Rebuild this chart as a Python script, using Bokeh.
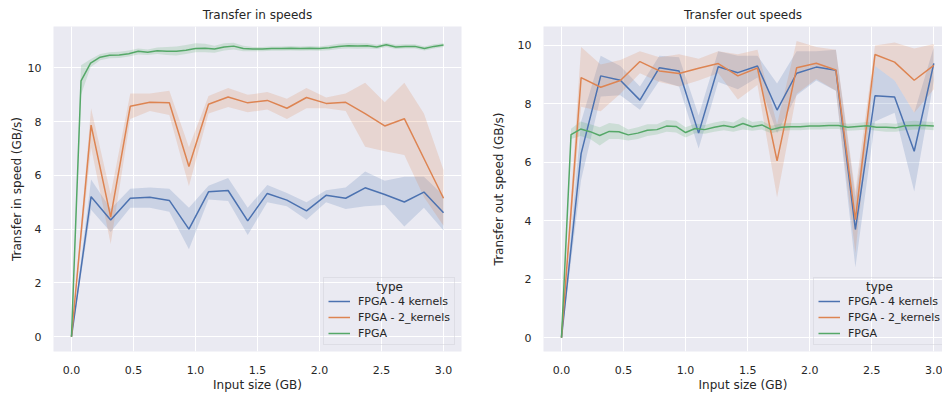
from bokeh.plotting import figure
from bokeh.layouts import row
from bokeh.models import Range1d, Legend, LegendItem, FixedTicker, NumeralTickFormatter, Label
from bokeh.embed import file_html
from bokeh.resources import INLINE

# ---------------- data ----------------
x_sizes = [0.0, 0.158, 0.316, 0.474, 0.632, 0.789, 0.947, 1.105, 1.263, 1.421,
           1.579, 1.737, 1.895, 2.053, 2.211, 2.368, 2.526, 2.684, 2.842, 3.0]
x_sizes_fpga = [0.0, 0.077, 0.154, 0.231, 0.308, 0.385, 0.462, 0.538, 0.615, 0.692,
                0.769, 0.846, 0.923, 1.0, 1.077, 1.154, 1.231, 1.308, 1.385, 1.462,
                1.538, 1.615, 1.692, 1.769, 1.846, 1.923, 2.0, 2.077, 2.154, 2.231,
                2.308, 2.385, 2.462, 2.538, 2.615, 2.692, 2.769, 2.846, 2.923, 3.0]

series_names = ["FPGA - 4 kernels", "FPGA - 2_kernels", "FPGA"]
legend_title = "type"

# Transfer in speeds
in_4k = [0, 5.21, 4.34, 5.15, 5.19, 5.07, 4.00, 5.39, 5.44, 4.31, 5.33, 5.08, 4.68, 5.26, 5.15, 5.54, 5.29, 5.01, 5.38, 4.61]
in_4k_lo = [0, 4.72, 3.90, 4.80, 4.80, 4.65, 3.25, 5.10, 5.05, 3.78, 5.00, 4.85, 4.35, 5.00, 4.75, 4.85, 4.90, 4.10, 4.80, 3.95]
in_4k_hi = [0, 5.85, 4.75, 5.50, 5.55, 5.50, 4.80, 5.62, 5.90, 4.80, 5.64, 5.35, 5.00, 5.45, 5.55, 6.15, 5.80, 5.95, 5.95, 5.25]

in_2k = [0, 7.87, 4.45, 8.57, 8.72, 8.70, 6.33, 8.65, 8.92, 8.70, 8.79, 8.50, 8.90, 8.68, 8.72, 8.30, 7.84, 8.11, 6.63, 5.15]
in_2k_lo = [0, 7.05, 3.45, 8.10, 8.40, 8.25, 5.60, 8.30, 8.55, 8.35, 8.45, 8.10, 8.50, 8.50, 8.40, 7.07, 6.90, 6.76, 5.20, 4.13]
in_2k_hi = [0, 8.50, 5.30, 9.05, 9.05, 9.15, 7.05, 8.95, 9.25, 9.00, 9.10, 8.85, 9.25, 8.90, 9.05, 9.45, 8.72, 9.45, 8.30, 6.20]

in_fpga = [0, 9.52, 10.18, 10.40, 10.47, 10.48, 10.53, 10.62, 10.58, 10.64,
           10.62, 10.62, 10.66, 10.72, 10.73, 10.70, 10.78, 10.81, 10.72, 10.70,
           10.70, 10.72, 10.72, 10.73, 10.72, 10.73, 10.72, 10.75, 10.80, 10.82,
           10.81, 10.82, 10.78, 10.86, 10.78, 10.80, 10.80, 10.72, 10.80, 10.85]
in_fpga_lo = [0, 9.00, 10.02, 10.28, 10.36, 10.37, 10.42, 10.50, 10.48, 10.52,
              10.48, 10.46, 10.52, 10.58, 10.58, 10.56, 10.65, 10.68, 10.62, 10.62,
              10.62, 10.64, 10.64, 10.65, 10.64, 10.65, 10.64, 10.66, 10.70, 10.72,
              10.71, 10.72, 10.70, 10.78, 10.70, 10.72, 10.72, 10.65, 10.72, 10.78]
in_fpga_hi = [0, 10.10, 10.32, 10.52, 10.58, 10.60, 10.65, 10.72, 10.68, 10.76,
              10.78, 10.80, 10.85, 10.92, 10.90, 10.82, 10.92, 10.94, 10.82, 10.78,
              10.78, 10.80, 10.80, 10.81, 10.80, 10.81, 10.80, 10.84, 10.90, 10.93,
              10.92, 10.92, 10.86, 10.94, 10.86, 10.88, 10.88, 10.80, 10.88, 10.92]

# Transfer out speeds
out_4k = [0, 6.30, 8.96, 8.81, 8.13, 9.24, 9.13, 7.00, 9.27, 9.07, 9.30, 7.79, 9.05, 9.26, 9.15, 3.70, 8.28, 8.24, 6.38, 9.39]
out_4k_lo = [0, 5.40, 8.25, 8.30, 7.80, 8.80, 8.60, 6.47, 8.75, 8.50, 8.90, 7.00, 8.30, 8.80, 8.45, 2.40, 7.40, 7.70, 5.00, 8.80]
out_4k_hi = [0, 7.40, 9.65, 9.30, 8.60, 9.65, 9.60, 7.60, 9.80, 9.65, 9.65, 8.70, 9.80, 9.80, 9.85, 4.80, 9.30, 8.80, 7.70, 9.95]

out_2k = [0, 8.90, 8.57, 8.80, 9.45, 9.13, 9.04, 9.22, 9.38, 8.96, 9.23, 6.05, 9.24, 9.39, 9.16, 4.04, 9.69, 9.43, 8.81, 9.32]
out_2k_lo = [0, 7.90, 7.75, 8.35, 9.05, 8.75, 8.60, 8.80, 9.05, 8.15, 8.65, 4.80, 8.35, 8.85, 8.45, 2.90, 9.30, 8.80, 7.70, 8.50]
out_2k_hi = [0, 9.95, 9.35, 9.50, 9.80, 9.60, 9.70, 9.55, 9.80, 9.70, 9.85, 7.30, 10.15, 9.95, 9.85, 5.00, 10.00, 10.10, 9.90, 10.05]

out_fpga = [0, 6.95, 7.14, 7.05, 6.92, 7.06, 7.05, 6.94, 7.00, 7.10,
            7.12, 7.24, 7.23, 7.02, 7.16, 7.12, 7.20, 7.26, 7.20, 7.33,
            7.22, 7.28, 7.12, 7.20, 7.22, 7.22, 7.24, 7.24, 7.26, 7.26,
            7.20, 7.23, 7.25, 7.20, 7.20, 7.18, 7.25, 7.26, 7.26, 7.24]
out_fpga_lo = [0, 6.80, 6.90, 6.80, 6.58, 6.80, 6.80, 6.75, 6.80, 6.90,
               6.95, 7.05, 7.02, 6.85, 7.00, 6.98, 7.05, 7.10, 7.05, 7.12,
               7.08, 7.12, 7.00, 7.08, 7.10, 7.10, 7.12, 7.12, 7.14, 7.14,
               7.08, 7.10, 7.12, 7.08, 7.05, 7.05, 7.10, 7.12, 7.12, 7.10]
out_fpga_hi = [0, 7.15, 7.40, 7.30, 7.20, 7.35, 7.30, 7.12, 7.20, 7.30,
               7.30, 7.45, 7.42, 7.20, 7.32, 7.28, 7.36, 7.42, 7.36, 7.55,
               7.38, 7.42, 7.25, 7.33, 7.35, 7.35, 7.36, 7.36, 7.38, 7.38,
               7.32, 7.35, 7.38, 7.33, 7.35, 7.32, 7.40, 7.42, 7.40, 7.38]

x_ticks = [0.0, 0.5, 1.0, 1.5, 2.0, 2.5, 3.0]
y_ticks = [0, 2, 4, 6, 8, 10]

colors = ["#4C72B0", "#DD8452", "#55A868"]

FONT = "DejaVu Sans"
TXT = "#262626"


def make_fig(title, ylabel, width, border_left, border_right, x_end, y_range,
             ylabel_standoff, title_pos, data):
    p = figure(width=width, height=394, output_backend="svg", toolbar_location=None,
               x_range=Range1d(-0.145, x_end), y_range=Range1d(*y_range),
               min_border_left=border_left, min_border_right=border_right,
               min_border_top=25, min_border_bottom=41)
    p.title.text = title
    p.title.align = "center"
    p.title.text_font = FONT
    p.title.text_font_size = "12px"
    p.title.text_font_style = "normal"
    p.title.text_color = TXT
    p.title.text_line_height = 1.0
    p.title.standoff = 10
    p.title.offset = 0

    p.background_fill_color = "#EAEAF2"
    p.border_fill_color = "white"
    p.outline_line_color = None
    p.grid.grid_line_color = "white"
    p.grid.grid_line_width = 1
    p.xaxis.ticker = FixedTicker(ticks=x_ticks)
    p.yaxis.ticker = FixedTicker(ticks=y_ticks)
    p.xaxis.formatter = NumeralTickFormatter(format="0.0")
    for ax in (p.xaxis, p.yaxis):
        ax.axis_line_color = None
        ax.major_tick_line_color = None
        ax.minor_tick_line_color = None
        ax.major_label_text_font = FONT
        ax.major_label_text_font_size = "11px"
        ax.major_label_text_color = TXT
        ax.axis_label_text_font = FONT
        ax.axis_label_text_font_size = "12px"
        ax.axis_label_text_font_style = "normal"
        ax.axis_label_text_color = TXT
    p.xaxis.major_label_standoff = 8
    p.xaxis.axis_label_standoff = 1
    p.yaxis.major_label_standoff = 6
    p.yaxis.axis_label_standoff = ylabel_standoff
    p.xaxis.axis_label = "Input size (GB)"
    p.yaxis.axis_label = ylabel

    for (xs, v, lo, hi), c in zip(data, colors):
        p.varea(x=xs, y1=lo, y2=hi, fill_color=c, fill_alpha=0.2)
    items = []
    for (xs, v, lo, hi), c, name in zip(data, colors, series_names):
        r = p.line(x=xs, y=v, line_color=c, line_width=1.5)
        items.append(LegendItem(label=name, renderers=[r]))

    p.add_layout(Label(x=title_pos[0], y=title_pos[1], text=legend_title,
                       text_align="center", text_baseline="middle",
                       text_font=FONT, text_font_size="12px", text_color=TXT), "center")
    leg = Legend(items=items, location=(270, 6), title=" ",
                 title_text_font=FONT, title_text_font_size="9px",
                 title_text_font_style="normal", title_text_color=TXT,
                 title_standoff=2,
                 label_text_font=FONT, label_text_font_size="11px",
                 label_text_color=TXT, glyph_width=22, glyph_height=14,
                 label_height=14, label_standoff=8, spacing=2, padding=4, margin=0,
                 background_fill_color="#EDEDF4", background_fill_alpha=0.0,
                 border_line_color="#D0D0D8", border_line_width=1)
    p.add_layout(leg, "center")
    return p


p1 = make_fig("Transfer in speeds", "Transfer in speed (GB/s)", 470, 53, 9, 3.145,
              (-0.55, 11.54), 1, (2.565, 1.86),
              [(x_sizes, in_4k, in_4k_lo, in_4k_hi),
               (x_sizes, in_2k, in_2k_lo, in_2k_hi),
               (x_sizes_fpga, in_fpga, in_fpga_lo, in_fpga_hi)])
p2 = make_fig("Transfer out speeds", "Transfer out speed (GB/s)", 472, 73, 0, 3.07,
              (-0.475, 10.65), 9, (2.562, 1.72),
              [(x_sizes, out_4k, out_4k_lo, out_4k_hi),
               (x_sizes, out_2k, out_2k_lo, out_2k_hi),
               (x_sizes_fpga, out_fpga, out_fpga_lo, out_fpga_hi)])

layout = row(p1, p2)
open("out.html", "w").write(file_html(layout, INLINE))
